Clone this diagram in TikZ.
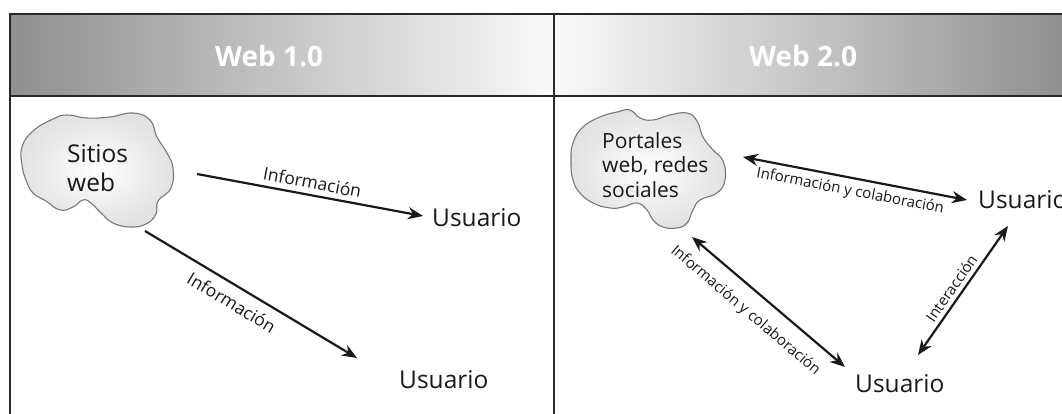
\documentclass[tikz,border=0pt]{standalone}
\usepackage{fontspec}
\setmainfont{Open Sans}
\usetikzlibrary{arrows.meta}
\definecolor{hdrdark}{RGB}{143,143,143}
\definecolor{hdrmid}{RGB}{186,186,186}
\definecolor{hdrlight}{RGB}{250,250,250}
\definecolor{rulecol}{RGB}{40,40,40}
\definecolor{ink}{RGB}{25,25,25}
\definecolor{cloudedge}{RGB}{120,120,120}
\definecolor{cloudfill}{RGB}{226,226,226}
\begin{document}
\begin{tikzpicture}[x=1pt,y=-1pt,
  rulestyle/.style={draw=rulecol, line width=2.4pt, line cap=rect},
  hdrtext/.style={text=white, font=\bfseries\fontsize{28}{34}\selectfont, inner sep=0pt},
  usr/.style={text=ink, font=\fontsize{24.5}{29}\selectfont, inner sep=0pt},
  cloudtxt/.style={text=ink, font=\fontsize{21}{24.5}\selectfont, inner sep=0pt, align=left},
  lbl/.style={text=ink, font=\fontsize{17.5}{20}\selectfont, inner sep=1pt},
  slbl/.style={text=ink, font=\fontsize{15}{18}\selectfont, inner sep=1pt},
  flow/.style={draw=ink, line width=2.2pt, -{Stealth[length=15pt,width=12pt]}},
  dflow/.style={draw=ink, line width=2.2pt, {Stealth[length=15pt,width=12pt]}-{Stealth[length=15pt,width=12pt]}},
  cloudshape/.style={draw=cloudedge, line width=1.1pt, inner color=white, outer color=cloudfill},
]
\useasboundingbox (0,0) rectangle (1062,414);
% header shading
\shade[left color=hdrdark, middle color=hdrmid, right color=hdrlight] (10,14) rectangle (554,96);
\shade[left color=hdrlight, middle color=hdrmid, right color=hdrdark] (554,14) rectangle (1066,96);
% table rules
\draw[rulestyle] (10,14) -- (1080,14);
\draw[rulestyle] (10,96) -- (1080,96);
\draw[rulestyle] (10,14) -- (10,430);
\draw[rulestyle] (554,14) -- (554,430);
% headers
\node[hdrtext] (h1) at (269,56) {Web 1.0};
\node[hdrtext] (h2) at (803,56) {Web 2.0};
% clouds
\shade[cloudshape] plot[smooth cycle, tension=0.75] coordinates {
 (22,147) (33,131) (53,119) (67,115) (87,118) (110,117) (133,113) (150,120)
 (157,137) (167,153) (173,168) (171,188) (158,201) (156,214) (146,224) (130,227)
 (113,223) (101,213) (91,203) (83,200) (73,207) (60,210) (46,201) (33,193)
 (26,180) (22,165)};
\shade[cloudshape] plot[smooth cycle, tension=0.75] coordinates {
 (573,143) (583,127) (600,117) (617,112) (630,110) (640,118) (653,120) (670,115)
 (687,113) (697,121) (703,137) (713,150) (723,161) (725,180) (717,193) (700,200)
 (693,210) (687,223) (677,228) (663,227) (653,220) (647,210) (637,203) (623,207)
 (610,208) (593,203) (580,193) (573,180) (571,162)};
\node[usr, anchor=base west, align=left] (web1) at (67,192) {Sitios\\web};
\node[cloudtxt, anchor=base west] (web2) at (602,197) {Portales\\web, redes\\sociales};
% users
\node[usr, anchor=base west] (u1a) at (432,226) {Usuario};
\node[usr, anchor=base west] (u1b) at (399,388) {Usuario};
\node[usr, anchor=base west] (u2a) at (978,208) {Usuario};
\node[usr, anchor=base west] (u2b) at (855,392) {Usuario};
% arrow endpoints
\coordinate (p1s) at (197,174); \coordinate (p1e) at (423,216);
\coordinate (p2s) at (145,231); \coordinate (p2e) at (357,358);
\coordinate (q1s) at (743,157); \coordinate (q1e) at (967,200);
\coordinate (q2s) at (692,237); \coordinate (q2e) at (845,367);
\coordinate (q3s) at (918,355); \coordinate (q3e) at (1008,226);
% arrows
\draw[flow] (p1s) -- node[lbl, sloped, above=4pt] {Información} (p1e);
\draw[flow] (p2s) -- node[lbl, sloped, below=8pt, pos=0.45] {Información} (p2e);
\draw[dflow] (q1s) -- node[slbl, sloped, below=4pt, pos=0.49] {Información y colaboración} (q1e);
\draw[dflow] (q2s) -- node[slbl, sloped, below=12pt, pos=0.44] {Información y colaboración} (q2e);
\draw[dflow] (q3s) -- node[slbl, sloped, above=3pt, pos=0.47] {Interacción} (q3e);
\end{tikzpicture}
\end{document}
